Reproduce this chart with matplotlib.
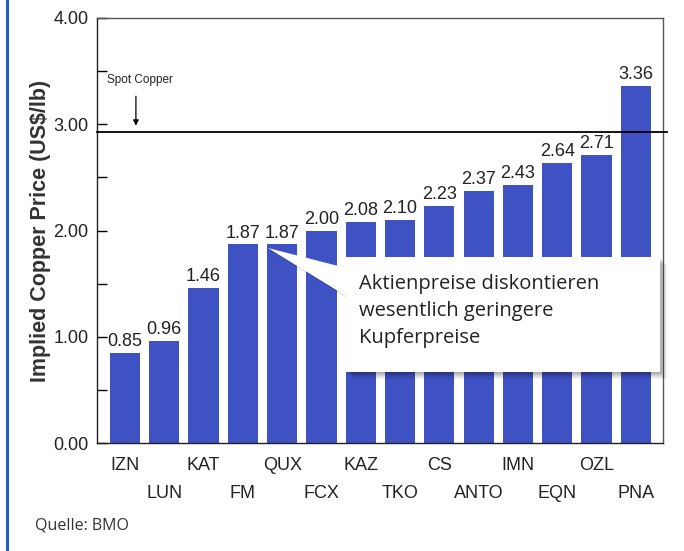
import numpy as np
import matplotlib
matplotlib.use('Agg')
import matplotlib.pyplot as plt
from matplotlib.patches import Rectangle, Polygon
from matplotlib.lines import Line2D
import matplotlib.transforms as mtransforms

tickers = ['IZN', 'LUN', 'KAT', 'FM', 'QUX', 'FCX', 'KAZ', 'TKO',
           'CS', 'ANTO', 'IMN', 'EQN', 'OZL', 'PNA']
implied_price = [0.85, 0.96, 1.46, 1.87, 1.87, 2.00, 2.08, 2.10,
                 2.23, 2.37, 2.43, 2.64, 2.71, 3.36]
spot_copper = 2.93
callout = 'Aktienpreise diskontieren\nwesentlich geringere\nKupferpreise'

narrow = ['Liberation Sans Narrow', 'Liberation Sans', 'DejaVu Sans']
bar_col = '#3f52c4'

fig = plt.figure(figsize=(6.84, 5.51), dpi=100)
ax = fig.add_axes([97/684, 1-443/551, 566/684, 425/551])

x = np.arange(len(tickers))
ax.bar(x, implied_price, width=0.77, color=bar_col, zorder=2)
for xi, v in zip(x, implied_price):
    ax.annotate(f'{v:.2f}', (xi, v), xytext=(0, 2), textcoords='offset points',
                ha='center', va='bottom', fontsize=13, family=narrow, color='#222222')

ax.set_xlim(-0.71, 13.69)
ax.set_ylim(0, 4)
ax.set_yticks([0, 1, 2, 3, 4])
ax.set_yticklabels([f'{t:.2f}' for t in [0, 1, 2, 3, 4]], family=narrow, fontsize=13, color='#222222')
ax.set_yticks([0.5, 1.5, 2.5, 3.5], minor=True)
ax.tick_params(axis='y', which='both', direction='in', length=7, width=1, pad=6)
ax.set_xticks(x)
ax.set_xticklabels([])
ax.tick_params(axis='x', direction='in', length=7, width=1)

# staggered ticker labels
for xi, t in zip(x, tickers):
    yoff = -22 if xi % 2 == 0 else -51
    ax.annotate(t, (xi, 0), xytext=(0, yoff), textcoords='offset pixels',
                ha='center', va='center', fontsize=13, family=narrow, color='#222222',
                annotation_clip=False)

for s in ax.spines.values():
    s.set_linewidth(1.0)
    s.set_color('#222222')
ax.spines['top'].set_color('#555555')
ax.spines['right'].set_color('#555555')

ax.set_ylabel('Implied Copper Price (US$/lb)', fontsize=15.5, fontweight='bold',
              color='#333333', family=['Liberation Sans', 'DejaVu Sans'], labelpad=2)

# spot copper reference line
ax.plot([-0.72, 13.78], [spot_copper, spot_copper], color='black', lw=1.3,
        clip_on=False, zorder=3)
ax.annotate('', xy=(0.28, spot_copper + 0.03), xytext=(0.28, 3.29),
            arrowprops=dict(arrowstyle='-|>', color='black', lw=0.9,
                            mutation_scale=8))
ax.text(-0.45, 3.42, 'Spot Copper', fontsize=8.5, family=narrow, color='#222222',
        va='center', ha='left')

# callout box with soft shadow and pointer
bx0, bx1, by0, by1 = 5.62, 13.61, 0.668, 1.75
for k in range(1, 9):
    off = mtransforms.offset_copy(ax.transData, fig=fig, x=k*0.6, y=-k*0.6, units='points')
    ax.add_patch(Rectangle((bx0, by0), bx1-bx0, by1-by0, transform=off,
                           facecolor='black', alpha=0.045, edgecolor='none',
                           zorder=4, clip_on=False))
ax.add_patch(Rectangle((bx0, by0), bx1-bx0, by1-by0, facecolor='white',
                       edgecolor='none', zorder=5, clip_on=False))
ptr_shadow = mtransforms.offset_copy(ax.transData, fig=fig, x=0.8, y=-1.5, units='points')
ax.add_patch(Polygon([(3.64, 1.835), (5.63, 1.647), (5.63, 1.383)], closed=True,
                     facecolor='black', alpha=0.12, edgecolor='none', zorder=4,
                     transform=ptr_shadow))
ax.add_patch(Polygon([(3.64, 1.835), (5.63, 1.647), (5.63, 1.383)], closed=True,
                     facecolor='white', edgecolor='none', zorder=5))
ax.text(5.95, 1.242, callout, fontsize=14.5, family=['Open Sans', 'DejaVu Sans'],
        color='#222222', va='center', ha='left', linespacing=1.45, zorder=6)

fig.text(35/684, 1-526/551, 'Quelle: BMO', fontsize=11.5, color='#333333',
         family=['Open Sans', 'DejaVu Sans'], va='center', ha='left')

fig.add_artist(Line2D([7/684, 7/684], [0, 1], color='#1d63c4', lw=2.2))

fig.savefig('out.png', dpi=100, facecolor='white')
